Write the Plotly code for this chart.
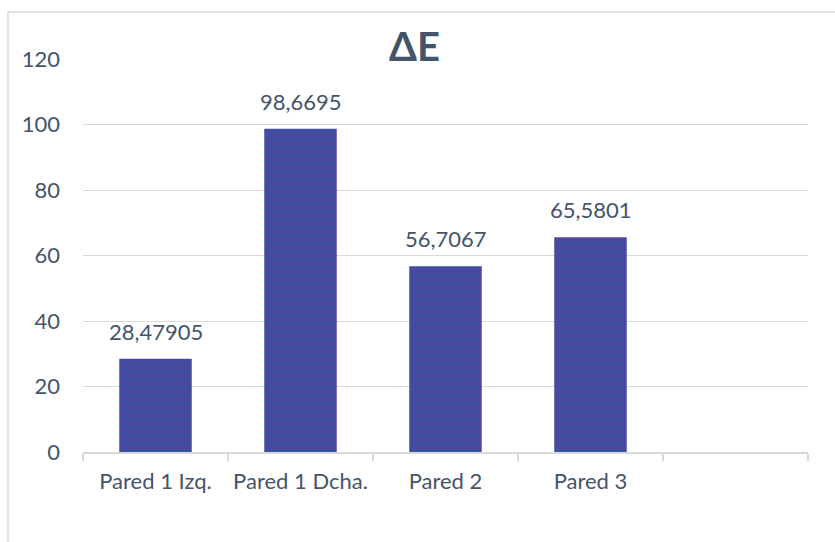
import plotly.graph_objects as go

# Color difference (ΔE) per wall
categories = ["Pared 1 Izq.", "Pared 1 Dcha.", "Pared 2", "Pared 3", ""]
delta_e = [28.47905, 98.6695, 56.7067, 65.5801]
y_ticks = [0, 20, 40, 60, 80, 100, 120]

TEXT = "#44546a"
GRID = "#d9d9d9"
FONT = "Lato"
FS = 22

W, H = 835, 542
L, R, T, B = 83, 27, 59, 90

positions = list(range(len(delta_e)))
labels = [str(v).replace(".", ",") for v in delta_e]

fig = go.Figure()
fig.add_trace(go.Bar(
    x=positions,
    y=delta_e,
    width=0.5,
    marker=dict(
        color="#3d4f9f",
        line=dict(width=0),
        pattern=dict(shape=".", fgcolor="#7c2fa6", bgcolor="#3d4f9f",
                     size=8, solidity=0.3, fillmode="overlay"),
    ),
    hoverinfo="skip",
))

# value labels above each bar
for xi, v, t in zip(positions, delta_e, labels):
    fig.add_annotation(x=xi, y=v, text=t, showarrow=False,
                       yanchor="bottom", yshift=12,
                       font=dict(family=FONT, size=FS, color=TEXT))

# chart title
fig.add_annotation(xref="paper", yref="paper",
                   x=(414 - L) / (W - L - R), y=(H - B - 46) / (H - T - B),
                   text="<b>ΔE</b>", showarrow=False,
                   xanchor="center", yanchor="middle",
                   font=dict(family=FONT, size=40, color=TEXT))

# outer chart frame
pw, ph = W - L - R, H - T - B
fig.add_shape(type="rect", xref="paper", yref="paper",
              x0=(8 - L) / pw, x1=(W + 20 - L) / pw,
              y0=(H - B - (H + 20)) / ph, y1=(H - B - 12) / ph,
              line=dict(color=GRID, width=1.5), layer="below")

fig.update_layout(
    width=W, height=H,
    margin=dict(l=L, r=R, t=T, b=B, pad=0),
    plot_bgcolor="white", paper_bgcolor="white",
    showlegend=False,
    font=dict(family=FONT, size=FS, color=TEXT),
)
fig.update_xaxes(
    range=[-0.5, len(categories) - 0.5],
    tickmode="array",
    tickvals=list(range(len(categories))),
    ticktext=categories,
    ticks="",
    showgrid=False,
    showline=True, linecolor=GRID, linewidth=1.5,
    zeroline=False,
    ticklabelstandoff=9,
    tickfont=dict(family=FONT, size=FS, color=TEXT),
    minor=dict(tickmode="linear", tick0=-0.5, dtick=1, ticks="outside",
               ticklen=7, tickcolor=GRID, tickwidth=1.5, showgrid=False),
)
fig.update_yaxes(
    range=[0, 120],
    tickmode="array",
    tickvals=y_ticks,
    showgrid=True, gridcolor=GRID, gridwidth=1,
    zeroline=False, showline=False,
    ticks="",
    ticklabelstandoff=22,
    tickfont=dict(family=FONT, size=FS, color=TEXT),
)

fig.write_html("out.html")
